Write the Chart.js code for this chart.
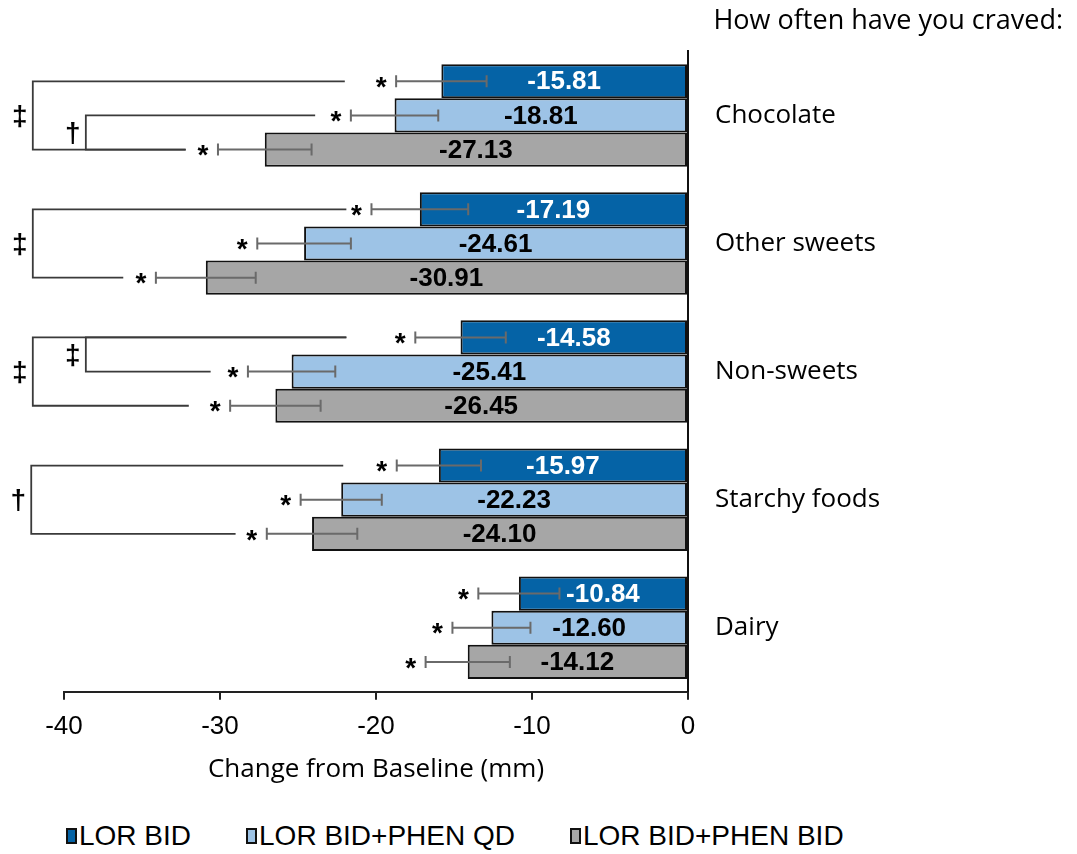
<!DOCTYPE html>
<html>
<head>
<meta charset="utf-8">
<title>Food cravings - change from baseline</title>
<script src="https://cdn.jsdelivr.net/npm/chart.js@4/dist/chart.umd.min.js"></script>
<style>
  body { margin: 0; background: #fff; }
  #wrap { position: relative; width: 1077px; height: 800px; }
  #legend { display: flex; gap: 55px; margin: 18px 0 0 66px; height: 36px; align-items: center;
            font: 28px "Liberation Sans", Arial, sans-serif; color: #000; }
  #legend span.item { display: flex; align-items: center; white-space: nowrap; }
  #legend i { display: inline-block; width: 7px; height: 12px; border: 2px solid #111; margin-right: 2px; }
</style>
</head>
<body>
<div id="wrap"><canvas id="chart"></canvas></div>
<div id="legend"></div>
<script>
const CATEGORIES = ['Chocolate', 'Other sweets', 'Non-sweets', 'Starchy foods', 'Dairy'];
const SERIES = ['LOR BID', 'LOR BID+PHEN QD', 'LOR BID+PHEN BID'];
const COLORS = ['#0563a6', '#9dc3e6', '#a6a6a6'];
const LABEL_COLORS = ['#fff', '#000', '#000'];

const LOR_BID      = [-15.81, -17.19, -14.58, -15.97, -10.84];
const LOR_PHEN_QD  = [-18.81, -24.61, -25.41, -22.23, -12.60];
const LOR_PHEN_BID = [-27.13, -30.91, -26.45, -24.10, -14.12];

// half-widths of the error bars
const ERR_LOR_BID      = [2.9, 3.1, 2.9, 2.7, 2.6];
const ERR_LOR_PHEN_QD  = [2.8, 3.0, 2.8, 2.6, 2.5];
const ERR_LOR_PHEN_BID = [3.0, 3.2, 2.9, 2.9, 2.7];

// significance brackets: category, first row, last row, x of the spine, line ends, symbol
const BRACKETS = [
  { cat: 0, from: 0, to: 2, at: -42.0, endFrom: -22.0, endTo: -32.2, sym: '\u2021' },
  { cat: 0, from: 1, to: 2, at: -38.6, endFrom: -23.9, endTo: -32.2, sym: '\u2020' },
  { cat: 1, from: 0, to: 2, at: -42.0, endFrom: -21.9, endTo: -36.2, sym: '\u2021' },
  { cat: 2, from: 0, to: 2, at: -42.0, endFrom: -21.9, endTo: -32.0, sym: '\u2021' },
  { cat: 2, from: 0, to: 1, at: -38.6, endFrom: -21.9, endTo: -30.6, sym: '\u2021' },
  { cat: 3, from: 0, to: 2, at: -42.1, endFrom: -22.1, endTo: -29.0, sym: '\u2020' }
];

const annotate = {
  id: 'annotate',
  afterDatasetsDraw(chart) {
    const ctx = chart.ctx, xs = chart.scales.x;
    ctx.save();
    chart.data.datasets.forEach((ds, di) => {
      chart.getDatasetMeta(di).data.forEach((bar, i) => {
        const v = ds.data[i], e = ds.err[i];
        const lo = xs.getPixelForValue(v - e), hi = xs.getPixelForValue(v + e);
        ctx.strokeStyle = '#6a6a6a';
        ctx.lineWidth = 2;
        ctx.beginPath();
        ctx.moveTo(lo, bar.y); ctx.lineTo(hi, bar.y);
        ctx.moveTo(lo, bar.y - 6); ctx.lineTo(lo, bar.y + 6);
        ctx.moveTo(hi, bar.y - 6); ctx.lineTo(hi, bar.y + 6);
        ctx.stroke();

        ctx.fillStyle = '#000';
        ctx.font = 'bold 28px "Liberation Sans", Arial';
        ctx.textAlign = 'center';
        ctx.textBaseline = 'middle';
        ctx.fillText('*', lo - 15, bar.y + 7);

        ctx.fillStyle = LABEL_COLORS[di];
        ctx.font = 'bold 26px "Liberation Sans", Arial';
        ctx.fillText(v.toFixed(2), (bar.x + bar.base) / 2, bar.y + 1);
      });
    });
    ctx.restore();
  },
  afterDraw(chart) {
    const ctx = chart.ctx, xs = chart.scales.x;
    ctx.save();
    ctx.strokeStyle = '#3a3a3a';
    ctx.lineWidth = 1.8;
    ctx.fillStyle = '#000';
    ctx.font = 'bold 28px "Liberation Sans", Arial';
    ctx.textAlign = 'center';
    ctx.textBaseline = 'middle';
    BRACKETS.forEach(b => {
      const y1 = chart.getDatasetMeta(b.from).data[b.cat].y;
      const y2 = chart.getDatasetMeta(b.to).data[b.cat].y;
      const xa = xs.getPixelForValue(b.at);
      ctx.beginPath();
      ctx.moveTo(xs.getPixelForValue(b.endFrom), y1);
      ctx.lineTo(xa, y1);
      ctx.lineTo(xa, y2);
      ctx.lineTo(xs.getPixelForValue(b.endTo), y2);
      ctx.stroke();
      ctx.fillText(b.sym, xa - 13, (y1 + y2) / 2 + 2);
    });
    ctx.restore();
  }
};

new Chart(document.getElementById('chart'), {
  type: 'bar',
  data: {
    labels: CATEGORIES,
    datasets: [
      { label: SERIES[0], data: LOR_BID, err: ERR_LOR_BID, backgroundColor: COLORS[0] },
      { label: SERIES[1], data: LOR_PHEN_QD, err: ERR_LOR_PHEN_QD, backgroundColor: COLORS[1] },
      { label: SERIES[2], data: LOR_PHEN_BID, err: ERR_LOR_PHEN_BID, backgroundColor: COLORS[2] }
    ]
  },
  options: {
    indexAxis: 'y',
    responsive: true,
    maintainAspectRatio: false,
    animation: false,
    layout: { padding: { left: 64, right: 14, top: 0, bottom: 11 } },
    datasets: {
      bar: { categoryPercentage: 0.8, barPercentage: 1.0, borderColor: '#111', borderWidth: 2, borderSkipped: false }
    },
    plugins: {
      legend: { display: false },
      tooltip: { enabled: false },
      title: {
        display: true, text: 'How often have you craved:', align: 'end', color: '#000',
        font: { family: '"Open Sans", sans-serif', size: 27, weight: 'normal' },
        padding: { top: 5, bottom: 14 }
      }
    },
    scales: {
      x: {
        min: -40, max: 0,
        ticks: { stepSize: 10, color: '#000', padding: 14,
                 font: { family: '"Liberation Sans", Arial', size: 26, lineHeight: 1.0 } },
        grid: { drawOnChartArea: false, drawTicks: true, tickLength: 8, color: '#222', lineWidth: 2 },
        border: { display: true, color: '#222', width: 2 },
        title: {
          display: true, text: 'Change from Baseline (mm)', color: '#000',
          font: { family: '"Open Sans", sans-serif', size: 26 },
          padding: { top: 0, bottom: 4 }
        }
      },
      y: {
        position: 'right',
        grid: { display: false, drawTicks: false },
        border: { display: true, color: '#111', width: 2 },
        ticks: { color: '#000', padding: 27, font: { family: '"Open Sans", sans-serif', size: 26 } },
        afterFit(s) { s.width = 375; }
      }
    }
  },
  plugins: [annotate]
});

document.getElementById('legend').innerHTML = SERIES.map((s, i) =>
  `<span class="item"><i style="background:${COLORS[i]}"></i>${s}</span>`).join('');
</script>
</body>
</html>
